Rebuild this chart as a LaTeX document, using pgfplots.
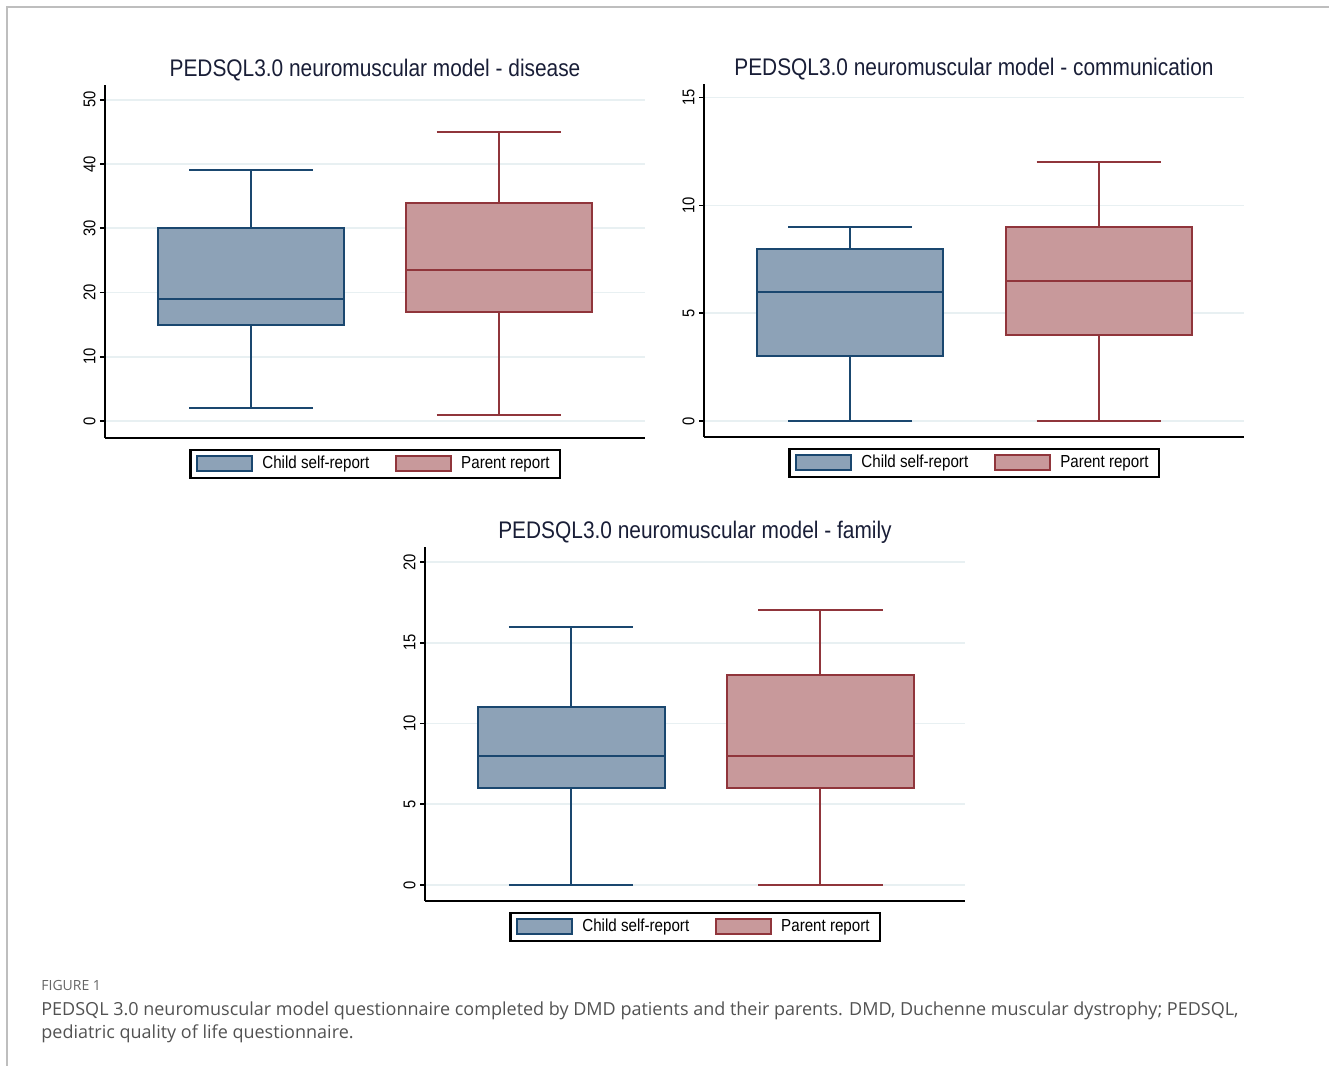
\documentclass[border=0pt]{standalone}
\usepackage{pgfplots}
\pgfplotsset{compat=1.18}
\usepgfplotslibrary{statistics}
\usepackage{fontspec}
\setmainfont{Liberation Sans}
\newfontfamily\statafont[FakeStretch=0.87]{Liberation Sans}
\newfontfamily\capfont{Open Sans}
\definecolor{navy}{RGB}{26,71,111}
\definecolor{navyfill}{RGB}{141,162,183}
\definecolor{maroon}{RGB}{144,53,59}
\definecolor{maroonfill}{RGB}{200,153,155}
\definecolor{gridc}{RGB}{232,240,242}
\definecolor{framec}{RGB}{190,190,190}
\definecolor{titlec}{RGB}{25,30,55}
\pgfplotsset{
  stata/.style={
    scale only axis, width=270pt, height=176.5pt,
    axis x line=bottom, axis y line=left,
    axis line style={-, line width=0.9pt, black},
    xtick=\empty,
    ymajorgrids, grid style={gridc, line width=0.8pt},
    tick align=outside, major tick length=2.5pt,
    tick style={black, line width=0.8pt},
    /pgf/number format/assume math mode=true,
    yticklabel style={rotate=90, anchor=south, font=\statafont\fontsize{8.5}{10}\selectfont, inner sep=2pt},
    title style={font=\statafont\fontsize{12}{14}\selectfont, text=titlec, anchor=base, at={(0.5,1)}, yshift=-2pt},
    legend style={at={(0.5,-0.031)}, anchor=north, legend columns=2, draw=black, line width=1.1pt,
      font=\statafont\fontsize{8.7}{10}\selectfont, inner xsep=3pt, inner ysep=1pt,
      /tikz/every even column/.append style={column sep=11pt},
      /tikz/every odd column/.append style={column sep=2.5pt}},
  },
  childbox/.style={forget plot, draw=navy, fill=navyfill, line width=1pt, solid, mark=none},
  parentbox/.style={forget plot, draw=maroon, fill=maroonfill, line width=1pt, solid, mark=none},
  childleg/.style={legend image code/.code={\draw[draw=navy, fill=navyfill, line width=1pt] (0pt,-3.75pt) rectangle (27.5pt,3.75pt);}},
  parentleg/.style={legend image code/.code={\draw[draw=maroon, fill=maroonfill, line width=1pt] (0pt,-3.75pt) rectangle (27.5pt,3.75pt);}},
  boxplot/draw direction=y,
}
\begin{document}
\begin{tikzpicture}[x=0.5pt,y=0.5pt]
\path[use as bounding box] (0,0) rectangle (1329,1066);
\draw[framec, line width=0.8pt] (7,0) -- (7,1059) -- (1329,1059);

% Panel 1: disease
\begin{axis}[stata, at={(52.5pt,314pt)}, anchor=south west,
  xmin=0.411, xmax=2.589, ymin=-2.65, ymax=52.3,
  ytick={0,10,20,30,40,50},
  title={PEDSQL3.0 neuromuscular model - disease}]
\addplot[childbox, boxplot prepared={draw position=1, lower whisker=2, lower quartile=15, median=19, upper quartile=30, upper whisker=39, box extend=0.75, whisker extend=0.5}, boxplot/draw direction=y] coordinates {};
\addplot[parentbox, boxplot prepared={draw position=2, lower whisker=1, lower quartile=17, median=23.5, upper quartile=34, upper whisker=45, box extend=0.75, whisker extend=0.5}, boxplot/draw direction=y] coordinates {};
\addlegendimage{childleg}
\addlegendentry{Child self-report}
\addlegendimage{parentleg}
\addlegendentry{Parent report}
\end{axis}

% Panel 2: communication
\begin{axis}[stata, at={(352pt,314.5pt)}, anchor=south west,
  xmin=0.411, xmax=2.585, ymin=-0.74, ymax=15.63,
  ytick={0,5,10,15},
  title={PEDSQL3.0 neuromuscular model - communication}]
\addplot[childbox, boxplot prepared={draw position=1, lower whisker=0, lower quartile=3, median=6, upper quartile=8, upper whisker=9, box extend=0.75, whisker extend=0.5}, boxplot/draw direction=y] coordinates {};
\addplot[parentbox, boxplot prepared={draw position=2, lower whisker=0, lower quartile=4, median=6.5, upper quartile=9, upper whisker=12, box extend=0.75, whisker extend=0.5}, boxplot/draw direction=y] coordinates {};
\addlegendimage{childleg}
\addlegendentry{Child self-report}
\addlegendimage{parentleg}
\addlegendentry{Parent report}
\end{axis}

% Panel 3: family
\begin{axis}[stata, at={(212.5pt,82.5pt)}, anchor=south west, height=177pt,
  xmin=0.414, xmax=2.58, ymin=-0.99, ymax=20.93,
  ytick={0,5,10,15,20},
  title={PEDSQL3.0 neuromuscular model - family}]
\addplot[childbox, boxplot prepared={draw position=1, lower whisker=0, lower quartile=6, median=8, upper quartile=11, upper whisker=16, box extend=0.75, whisker extend=0.5}, boxplot/draw direction=y] coordinates {};
\addplot[parentbox, boxplot prepared={draw position=2, lower whisker=0, lower quartile=6, median=8, upper quartile=13, upper whisker=17, box extend=0.75, whisker extend=0.5}, boxplot/draw direction=y] coordinates {};
\addlegendimage{childleg}
\addlegendentry{Child self-report}
\addlegendimage{parentleg}
\addlegendentry{Parent report}
\end{axis}

% Caption
\node[anchor=base west, inner sep=0pt, font=\capfont\fontsize{7}{8}\selectfont, text=black!60] at (41,75) {FIGURE 1};
\node[anchor=base west, inner sep=0pt, font=\capfont\fontsize{9}{10}\selectfont, text=black!68] at (41,50) {PEDSQL 3.0 neuromuscular model questionnaire completed by DMD patients and their parents. DMD, Duchenne muscular dystrophy; PEDSQL,};
\node[anchor=base west, inner sep=0pt, font=\capfont\fontsize{9}{10}\selectfont, text=black!68] at (41,27) {pediatric quality of life questionnaire.};
\end{tikzpicture}
\end{document}
